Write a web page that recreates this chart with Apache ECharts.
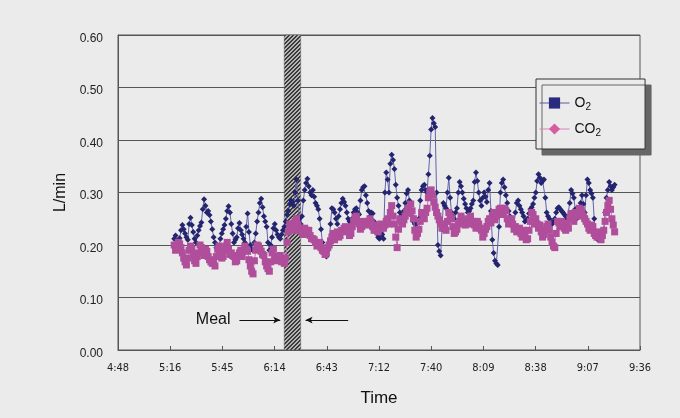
<!DOCTYPE html>
<html>
<head>
<meta charset="utf-8">
<script src="https://cdn.jsdelivr.net/npm/echarts@6/dist/echarts.min.js"></script>
<style>
html,body{margin:0;padding:0;background:#ebebeb;}
#chart{width:680px;height:418px;}
</style>
</head>
<body>
<div id="chart"></div>
<script>
// ---- data ----
const X_TICK_LABELS = ['4:48','5:16','5:45','6:14','6:43','7:12','7:40','8:09','8:38','9:07','9:36'];
const START_MIN = 319;   // first sample, minutes after midnight (5:19)
const STEP_MIN = 0.75;   // sampling step, minutes
const MEAL_START_MIN = 379.7;
const MEAL_END_MIN = 388.8;

const o2 = [
.212,.218,.205,.200,.213,.228,.238,.230,.222,.215,.210,.240,.252,.238,.225,.212,.205,.218,.228,.236,
.243,.268,.287,.275,.262,.265,.257,.245,.230,.215,.205,.195,.188,.198,.212,.222,.230,.238,.250,.265,
.274,.262,.240,.222,.205,.210,.215,.232,.242,.228,.220,.212,.205,.235,.260,.225,.200,.192,.190,.205,
.222,.245,.262,.280,.288,.272,.255,.245,.235,.205,.190,.200,.215,.232,.240,.228,.220,.215,.212,.220,
.228,.235,.245,.258,.265,.278,.285,.282,.275,.300,.325,.285,.250,.240,.255,.285,.305,.318,.326,.312,
.300,.295,.305,.292,.280,.275,.268,.250,.230,.205,.190,.182,.178,.190,.205,.240,.270,.268,.262,.250,
.240,.255,.268,.280,.288,.282,.275,.262,.250,.245,.240,.250,.262,.268,.270,.262,.258,.285,.305,.310,
.312,.295,.280,.265,.255,.262,.260,.245,.230,.222,.215,.212,.218,.220,.212,.300,.338,.325,.300,.355,
.372,.362,.345,.315,.290,.275,.262,.255,.250,.265,.280,.298,.305,.285,.265,.255,.245,.240,.235,.242,
.250,.285,.305,.312,.315,.305,.300,.335,.370,.420,.442,.432,.425,.300,.200,.188,.180,.230,.280,.275,
.270,.300,.328,.290,.262,.255,.250,.262,.270,.300,.320,.312,.300,.288,.278,.270,.262,.265,.270,.278,
.285,.320,.338,.322,.300,.285,.275,.290,.300,.292,.282,.305,.318,.265,.210,.185,.170,.165,.162,.235,
.300,.318,.325,.310,.295,.280,.265,.255,.248,.245,.240,.262,.280,.285,.275,.268,.262,.255,.245,.248,
.250,.260,.268,.272,.278,.290,.300,.322,.335,.328,.318,.322,.325,.290,.262,.255,.250,.245,.240,.245,
.250,.262,.270,.272,.268,.265,.262,.258,.255,.250,.248,.280,.305,.298,.290,.268,.250,.255,.262,.280,
.295,.278,.262,.295,.325,.318,.305,.298,.290,.250,.215,.212,.210,.218,.225,.228,.230,.262,.290,.305,
.320,.312,.305,.310,.315
];

const co2 = [
.200,.190,.195,.205,.202,.195,.185,.175,.168,.162,.175,.190,.198,.192,.182,.170,.165,.178,.185,.200,
.195,.188,.180,.192,.188,.178,.172,.168,.165,.170,.160,.178,.192,.198,.185,.175,.178,.190,.198,.205,
.192,.182,.185,.180,.178,.168,.170,.180,.185,.190,.178,.190,.198,.192,.188,.172,.160,.150,.145,.170,
.190,.200,.198,.192,.188,.182,.180,.168,.160,.155,.150,.168,.185,.192,.178,.172,.170,.178,.180,.168,
.172,.165,.175,.205,.225,.240,.232,.228,.240,.245,.250,.238,.228,.232,.225,.220,.232,.228,.222,.228,
.218,.212,.212,.210,.205,.198,.200,.205,.195,.190,.188,.182,.185,.195,.200,.208,.215,.222,.210,.218,
.225,.215,.218,.228,.225,.232,.235,.228,.228,.218,.222,.235,.245,.252,.255,.245,.240,.230,.235,.242,
.245,.240,.238,.245,.250,.242,.235,.228,.230,.238,.225,.232,.240,.235,.232,.238,.245,.250,.240,.262,
.275,.255,.240,.215,.195,.230,.250,.245,.240,.248,.255,.262,.270,.262,.278,.265,.250,.228,.215,.222,
.230,.245,.262,.258,.250,.262,.270,.290,.300,.305,.295,.282,.272,.262,.255,.248,.240,.232,.235,.240,
.228,.245,.262,.255,.250,.235,.222,.225,.230,.240,.245,.255,.250,.242,.238,.240,.245,.250,.255,.240,
.245,.238,.232,.245,.240,.232,.228,.215,.222,.230,.235,.245,.250,.242,.255,.262,.248,.255,.262,.268,
.270,.262,.258,.270,.265,.250,.240,.245,.250,.240,.230,.235,.225,.228,.232,.222,.215,.228,.222,.210,
.212,.228,.245,.262,.258,.240,.250,.240,.232,.238,.225,.215,.220,.228,.235,.240,.228,.215,.205,.198,
.195,.222,.245,.242,.235,.245,.240,.232,.228,.240,.232,.250,.260,.252,.245,.262,.255,.262,.270,.268,
.262,.255,.250,.245,.240,.232,.228,.238,.235,.222,.218,.215,.225,.220,.210,.218,.228,.245,.262,.275,
.285,.268,.250,.238,.225
];

// ---- build ----
const DAY = 1440;
const times = o2.map((_, i) => (START_MIN + i * STEP_MIN) / DAY);

const pat = document.createElement('canvas');
pat.width = 4; pat.height = 4;
(function(){
  const c = pat.getContext('2d');
  c.fillStyle = '#b4b4b4'; c.fillRect(0,0,4,4);
  c.fillStyle = '#3a3a3a';
  for (let k = 0; k < 4; k++) { c.fillRect(k, 3 - k, 1, 1); c.fillRect((k + 1) % 4, 3 - k, 1, 1); }
})();

const chart = echarts.init(document.getElementById('chart'), null, {renderer: 'canvas'});
const fontMain = '"Liberation Sans", Arial, sans-serif';
const fontNarrow = '"Liberation Sans Narrow", "DejaVu Sans Condensed", "Liberation Sans", sans-serif';

chart.setOption({
  backgroundColor: '#ebebeb',
  animation: false,
  grid: {left: 118, right: 40, top: 35, bottom: 68, show: true, borderColor: '#555', borderWidth: 1, backgroundColor: 'transparent'},
  xAxis: {
    type: 'value', min: 0.2, max: 0.4, interval: 0.02,
    name: 'Time', nameLocation: 'middle', nameGap: 40,
    nameTextStyle: {fontSize: 17, color: '#111', fontFamily: fontMain},
    axisLine: {lineStyle: {color: '#555'}},
    axisTick: {inside: true, length: 4, lineStyle: {color: '#555'}},
    axisLabel: {fontSize: 11, color: '#222', margin: 13, fontFamily: fontNarrow,
      formatter: v => X_TICK_LABELS[Math.round((v - 0.2) / 0.02)] || ''},
    splitLine: {show: false}
  },
  yAxis: {
    type: 'value', min: 0, max: 0.6, interval: 0.1,
    name: 'L/min', nameLocation: 'middle', nameGap: 35, nameRotate: 90,
    nameTextStyle: {fontSize: 16, color: '#111', fontFamily: fontMain},
    axisLine: {show: true, lineStyle: {color: '#555'}},
    axisTick: {show: false},
    axisLabel: {margin: 15,
      formatter: v => '{a|' + v.toFixed(2) + '}',
      rich: {a: {fontSize: 12, color: '#222', fontFamily: fontMain, padding: [7, 0, 0, 0]}}},
    splitLine: {lineStyle: {color: '#555', width: 1}}
  },
  legend: {
    orient: 'vertical', left: 536, top: 79,
    padding: [17, 44, 11, 3], itemGap: 10, itemWidth: 30, itemHeight: 14,
    backgroundColor: '#ebebeb', borderColor: '#333', borderWidth: 1,
    shadowColor: '#666', shadowOffsetX: 6, shadowOffsetY: 6, shadowBlur: 0.01,
    data: [
      {name: 'O2', itemStyle: {color: '#2a2a7e'}, lineStyle: {color: '#5a5aa8', width: 1}},
      {name: 'CO2', itemStyle: {color: '#d45ea0'}, lineStyle: {color: '#dd80bb', width: 1}}
    ],
    formatter: n => n === 'O2' ? 'O{s|2}' : 'CO{s|2}',
    textStyle: {fontSize: 14, color: '#111', fontFamily: fontMain,
      rich: {s: {fontSize: 10, color: '#111', fontFamily: fontMain, padding: [8, 0, 0, 0]}}}
  },
  series: [
    {
      name: 'O2', type: 'line', symbol: 'rect', symbolSize: 6,
      data: times.map((t, i) => ({value: [t, o2[i]], symbol: 'diamond'})),
      itemStyle: {color: '#24246f'},
      lineStyle: {color: '#6262ad', width: 1},
      z: 2,
      markArea: {
        silent: true,
        itemStyle: {color: {image: pat, repeat: 'repeat'}, borderColor: '#666', borderWidth: 0.5},
        data: [[{xAxis: MEAL_START_MIN / DAY, yAxis: 0}, {xAxis: MEAL_END_MIN / DAY, yAxis: 0.6}]]
      },
      markLine: {
        silent: true, symbol: ['none', 'arrow'], symbolSize: [5, 7],
        lineStyle: {color: '#111', width: 1, type: 'solid'},
        label: {show: false},
        data: [
          [{coord: [355 / DAY, 0.057]}, {coord: [377.5 / DAY, 0.057]}],
          [{coord: [415 / DAY, 0.057]}, {coord: [391.5 / DAY, 0.057]}]
        ]
      },
      markPoint: {
        silent: true, symbol: 'circle', symbolSize: 0,
        label: {show: true, position: 'inside', formatter: 'Meal', fontSize: 16, color: '#111', fontFamily: fontMain},
        data: [{coord: [340.5 / DAY, 0.057]}]
      }
    },
    {
      name: 'CO2', type: 'line', symbol: 'diamond', symbolSize: 7,
      data: times.map((t, i) => ({value: [t, co2[i]], symbol: 'rect'})),
      itemStyle: {color: '#b04e9b'},
      lineStyle: {color: '#c86cb2', width: 1},
      z: 3
    }
  ]
});
</script>
</body>
</html>
